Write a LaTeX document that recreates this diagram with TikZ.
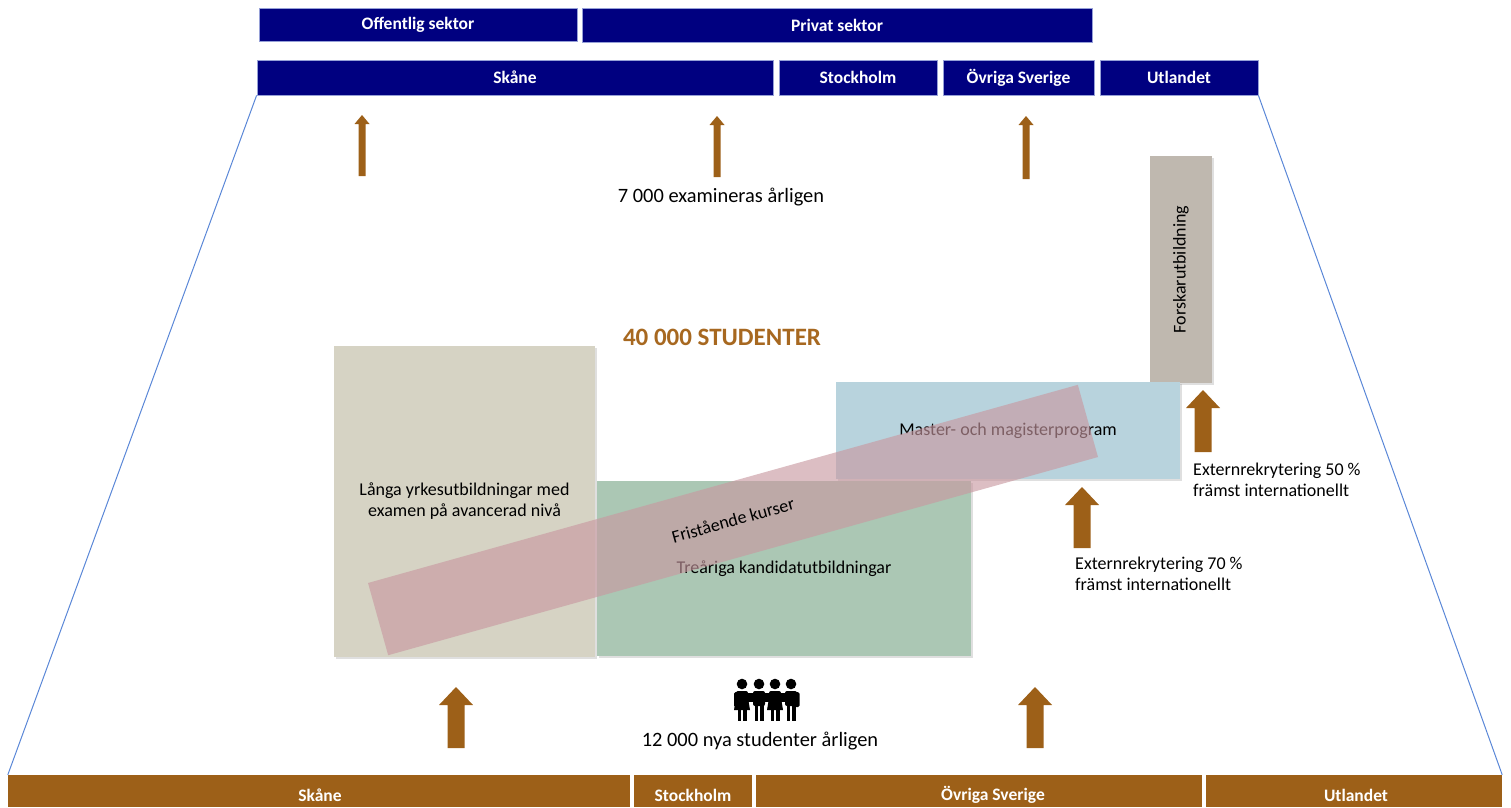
\documentclass[tikz,border=0pt]{standalone}
\usepackage{fontspec}
\setmainfont{Carlito}
\usetikzlibrary{shadows}
\definecolor{navy}{RGB}{0,0,128}
\definecolor{brn}{RGB}{157,96,24}
\definecolor{stud}{RGB}{167,104,32}
\definecolor{beige}{RGB}{214,211,196}
\definecolor{grn}{RGB}{171,199,180}
\definecolor{lblue}{RGB}{184,211,221}
\definecolor{taupe}{RGB}{191,184,175}
\definecolor{pinkband}{RGB}{200,152,160}
\definecolor{trap}{RGB}{90,135,215}
\definecolor{barline}{RGB}{150,160,215}
\newcommand{\bodyfont}{\fontsize{18}{21}\selectfont}
\newcommand{\capfont}{\fontsize{20.4}{24}\selectfont}
\newcommand{\barfont}{\fontsize{17.5}{20}\selectfont\bfseries}
\newcommand{\blockarrow}[6]{% x, ybottom, ytop, half shaft, half head, head height
  \fill[brn] (#1-#4,#2) -- (#1-#4,#3+#6) -- (#1-#5,#3+#6) -- (#1,#3) -- (#1+#5,#3+#6) -- (#1+#4,#3+#6) -- (#1+#4,#2) -- cycle;}
\tikzset{
  topbar/.style={fill=navy, draw=barline, line width=0.8pt, text=white, font=\barfont, inner sep=0pt},
  botbar/.style={fill=brn, inner sep=0pt},
  botlbl/.style={text=white, font=\barfont, inner sep=0pt},
  box/.style={inner sep=0pt, font=\bodyfont, align=center, drop shadow={shadow xshift=2pt, shadow yshift=-2pt, opacity=0.25}},
  txt/.style={font=\bodyfont, inner sep=0pt},
  captxt/.style={font=\capfont, inner sep=0pt},
  trapline/.style={draw=trap, line width=1pt}
}
\begin{document}
\begin{tikzpicture}[x=1pt,y=-1pt]
\useasboundingbox (0,0) rectangle (1511,807);
% top bars
\node[topbar, minimum width=318, minimum height=33] (off) at (418,24.5) {Offentlig sektor};
\node[topbar, minimum width=510, minimum height=34] (priv) at (837,25) {Privat sektor};
\node[topbar, minimum width=516, minimum height=35] (skT) at (515,77.5) {Skåne};
\node[topbar, minimum width=158, minimum height=35] (stoT) at (858,77.5) {Stockholm};
\node[topbar, minimum width=151, minimum height=35] (ovrT) at (1018.5,77.5) {Övriga Sverige};
\node[topbar, minimum width=158, minimum height=35] (utlT) at (1179,77.5) {Utlandet};
% bottom bars
\node[botbar, minimum width=622, minimum height=32] (skB) at (319,791) {};
\node[botbar, minimum width=118, minimum height=32] (stoB) at (693,791) {};
\node[botbar, minimum width=446, minimum height=32] (ovrB) at (979,791) {};
\node[botbar, minimum width=296, minimum height=32] (utlB) at (1354,791) {};
\node[botlbl] (skBl) at (320,795) {Skåne};
\node[botlbl] (stoBl) at (693,795) {Stockholm};
\node[botlbl] (ovrBl) at (993,795) {Övriga Sverige};
\node[botlbl] (utlBl) at (1356,795) {Utlandet};
% trapezoid sides
\draw[trapline] (skT.south west) -- (skB.north west);
\draw[trapline] (utlT.south east) -- (utlB.north east);
% top arrows
\blockarrow{362}{176}{115}{3.5}{7.5}{9}
\blockarrow{717}{177}{116}{3.5}{7.5}{9}
\blockarrow{1026}{179}{116}{3.5}{7.5}{9}
\node[captxt] (exam) at (721,197) {7 000 examineras årligen};
\node[font=\fontsize{25}{30}\selectfont\bfseries, text=stud, inner sep=0pt] (stud) at (722,337) {40 000 STUDENTER};
% boxes
\node[box, fill=taupe, minimum width=62, minimum height=227] (forsk) at (1181,269.5) {};
\node[txt, rotate=90] (forsklbl) at (forsk.center) {Forskarutbildning};
\node[box, fill=beige, minimum width=261, minimum height=311] (langa) at (464.5,501.5) {Långa yrkesutbildningar med\\examen på avancerad nivå};
\node[box, fill=grn, minimum width=374, minimum height=175] (trea) at (784,568.5) {Treåriga kandidatutbildningar};
\node[box, fill=lblue, minimum width=344, minimum height=97] (master) at (1008,430.5) {Master- och magisterprogram};
% band
\node[fill=pinkband, fill opacity=0.63, rotate=15.6, minimum width=737, minimum height=75, inner sep=0pt] (fri) at (733,520) {};
\node[txt, rotate=15.6] (frilbl) at (fri.center) {Fristående kurser};
% right arrows and texts
\blockarrow{1203}{452}{390}{8.5}{17}{18}
\blockarrow{1082}{548}{487}{8.5}{17}{18}
\node[txt, align=left, anchor=west] (ext50) at (1193,479.5) {Externrekrytering 50 \%\\främst internationellt};
\node[txt, align=left, anchor=west] (ext70) at (1075,573.5) {Externrekrytering 70 \%\\främst internationellt};
% bottom arrows
\blockarrow{456}{748}{687}{8.5}{17}{18}
\blockarrow{1035}{748}{687}{8.5}{17}{18}
% people icon
\foreach \cx/\dr in {742/1,759/0,775/1,791/0} {
  \fill (\cx,684) circle (5.3);
  \fill[rounded corners=2] (\cx-6,691) rectangle (\cx+6,706);
  \ifnum\dr=1 \fill (\cx-6,698) -- (\cx+6,698) -- (\cx+8,710) -- (\cx-8,710) -- cycle; \fi
  \fill (\cx-4.5,704) rectangle (\cx-1,721);
  \fill (\cx+1,704) rectangle (\cx+4.5,721);
}
\fill[rounded corners=1.5] (734,692) rectangle (738.5,707);
\fill[rounded corners=1.5] (795,692) rectangle (799.5,707);
\foreach \cx in {742,759,775} { \fill (\cx+5,693) rectangle (\cx+12,702); }
\node[captxt] (nya) at (760,741) {12 000 nya studenter årligen};
\end{tikzpicture}
\end{document}
